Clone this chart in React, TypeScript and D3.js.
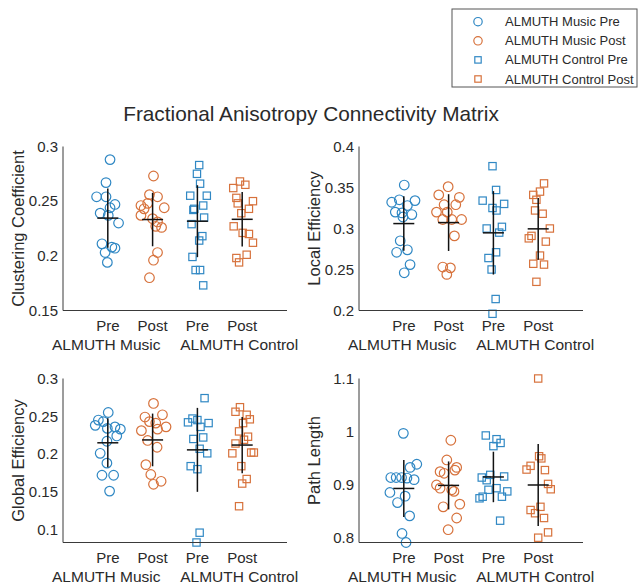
import React from 'react';
import * as d3 from 'd3';

// Session tick labels and the two study groups along each x axis
const sessionLabels = ['Pre', 'Post', 'Pre', 'Post'];
const groupLabels = ['ALMUTH Music', 'ALMUTH Control'];
const seriesNames = ['ALMUTH Music Pre', 'ALMUTH Music Post', 'ALMUTH Control Pre', 'ALMUTH Control Post'];
const metricNames = ['Clustering Coefficient', 'Local Efficiency', 'Global Efficiency', 'Path Length'];

// Per-subject values, one list per series (Music Pre, Music Post, Control Pre, Control Post)
const clusteringValues = [
  [0.288, 0.267, 0.254, 0.254, 0.247, 0.244, 0.239, 0.237, 0.230, 0.211, 0.208, 0.207, 0.203, 0.194],
  [0.273, 0.256, 0.254, 0.246, 0.248, 0.243, 0.244, 0.237, 0.234, 0.231, 0.226, 0.227, 0.203, 0.196, 0.180],
  [0.283, 0.275, 0.266, 0.255, 0.255, 0.246, 0.243, 0.242, 0.235, 0.229, 0.218, 0.214, 0.199, 0.187, 0.187, 0.173],
  [0.268, 0.265, 0.262, 0.253, 0.250, 0.243, 0.239, 0.227, 0.221, 0.220, 0.212, 0.201, 0.198, 0.194, 0.248],
];
const clusteringJitter = [
  [0.05, -0.04, -0.25, -0.04, 0.16, 0.05, -0.17, 0.01, 0.24, -0.13, 0.09, 0.16, -0.06, -0.01],
  [0.02, -0.07, 0.11, -0.26, -0.11, -0.19, 0.26, -0.26, 0, 0.11, 0.2, 0.07, 0.11, 0.02, -0.07],
  [0.04, -0.01, 0.06, -0.16, 0.21, 0.13, -0.07, -0.09, 0.15, -0.13, 0.11, 0.04, -0.11, -0.04, 0.06, 0.13],
  [-0.05, 0.07, -0.2, -0.13, 0.24, 0.15, -0.02, -0.19, 0.01, 0.15, 0.24, 0.1, -0.13, -0.07, -0.1],
];

const localValues = [
  [0.353, 0.332, 0.335, 0.334, 0.320, 0.328, 0.319, 0.317, 0.314, 0.285, 0.271, 0.274, 0.256, 0.246],
  [0.351, 0.341, 0.338, 0.329, 0.329, 0.320, 0.320, 0.311, 0.311, 0.311, 0.291, 0.253, 0.252, 0.244],
  [0.376, 0.347, 0.334, 0.330, 0.325, 0.322, 0.300, 0.302, 0.295, 0.271, 0.264, 0.250, 0.214, 0.196],
  [0.355, 0.345, 0.341, 0.335, 0.322, 0.318, 0.300, 0.288, 0.291, 0.284, 0.267, 0.257, 0.256, 0.235],
];
const localJitter = [
  [0.01, -0.27, -0.1, 0.25, -0.19, 0.08, -0.04, 0.18, -0.02, -0.08, -0.16, 0.08, 0.14, 0.01],
  [-0.01, -0.22, 0.24, -0.1, 0.16, -0.27, -0.03, -0.13, 0.07, 0.29, 0.13, -0.13, 0.04, -0.04],
  [-0.02, 0.06, -0.24, 0.24, -0.02, 0.07, -0.15, 0.19, 0.13, 0.06, -0.11, -0.04, 0.05, -0.02],
  [0.13, 0.04, -0.11, -0.04, -0.07, 0.1, 0.26, -0.21, -0.15, 0.17, 0.04, -0.11, 0.13, -0.04],
];

const globalValues = [
  [0.255, 0.245, 0.238, 0.243, 0.234, 0.236, 0.233, 0.224, 0.217, 0.201, 0.188, 0.172, 0.172, 0.151],
  [0.267, 0.249, 0.252, 0.243, 0.241, 0.236, 0.231, 0.233, 0.218, 0.209, 0.186, 0.173, 0.164, 0.160],
  [0.274, 0.247, 0.245, 0.242, 0.241, 0.236, 0.220, 0.222, 0.207, 0.201, 0.184, 0.180, 0.096, 0.083],
  [0.262, 0.256, 0.252, 0.246, 0.241, 0.230, 0.223, 0.219, 0.214, 0.201, 0.202, 0.202, 0.184, 0.167, 0.161, 0.131],
];
const globalJitter = [
  [0.01, -0.21, -0.28, -0.1, -0.01, 0.16, 0.28, 0.2, -0.02, -0.17, -0.02, -0.13, 0.13, 0.04],
  [0.02, -0.17, 0.22, -0.07, 0.07, 0.3, -0.25, 0.11, -0.11, 0.1, -0.15, -0.04, 0.19, 0.02],
  [0.16, -0.11, 0, -0.21, 0.25, 0.07, -0.09, 0.13, 0.05, 0.22, -0.15, 0, 0.05, -0.02],
  [-0.05, -0.15, 0.1, 0.17, 0.02, -0.07, 0.13, 0.04, -0.15, -0.22, 0.2, 0.26, -0.02, 0.1, 0, -0.07],
];

const pathValues = [
  [0.997, 0.939, 0.933, 0.914, 0.914, 0.914, 0.913, 0.910, 0.886, 0.879, 0.867, 0.842, 0.809, 0.792],
  [0.984, 0.947, 0.925, 0.922, 0.933, 0.928, 0.900, 0.894, 0.891, 0.888, 0.859, 0.864, 0.838, 0.816],
  [0.993, 0.986, 0.979, 0.973, 0.914, 0.919, 0.916, 0.909, 0.894, 0.891, 0.875, 0.878, 0.878, 0.888, 0.833],
  [1.100, 0.954, 0.950, 0.936, 0.929, 0.928, 0.902, 0.892, 0.859, 0.853, 0.847, 0.838, 0.811, 0.801],
];
const pathJitter = [
  [-0.01, 0.29, 0.14, -0.29, -0.17, -0.05, 0.07, 0.23, -0.31, 0.03, -0.14, 0.13, -0.04, 0.05],
  [0.05, -0.04, -0.19, -0.1, 0.18, 0.14, -0.27, -0.19, 0.07, 0.12, -0.12, 0.25, 0.18, -0.01],
  [-0.17, 0.07, 0.16, 0, -0.26, -0.07, 0.24, -0.15, 0.07, -0.11, -0.31, -0.24, 0.19, 0.31, 0.15],
  [0, 0.02, 0.07, -0.17, -0.26, 0.15, 0.22, 0.28, 0.05, -0.17, -0.07, 0.13, 0.22, 0],
];

// Axis limits and ticks for each metric
const yDomains = [
  [0.15, 0.3],
  [0.2, 0.4],
  [0.083, 0.3],
  [0.792, 1.1],
];
const yTicks = [
  [0.15, 0.2, 0.25, 0.3],
  [0.2, 0.25, 0.3, 0.35, 0.4],
  [0.1, 0.15, 0.2, 0.25, 0.3],
  [0.8, 0.9, 1, 1.1],
];

const allValues = [clusteringValues, localValues, globalValues, pathValues];
const allJitter = [clusteringJitter, localJitter, globalJitter, pathJitter];

const BLUE = '#3088c4';
const ORANGE = '#d7723c';
const seriesColors = [BLUE, ORANGE, BLUE, ORANGE];
const seriesShapes = ['circle', 'circle', 'square', 'square'];

const FONT = "'Liberation Sans', Arial, Helvetica, sans-serif";
const AXIS_COLOR = '#3a3a3a';
const TEXT_COLOR = '#2a2a2a';

// Panel placement (left, top) in a 2x2 grid
const panelOrigins = [
  [63, 146.5],
  [359, 146.5],
  [63, 378.5],
  [359, 378.5],
];
const PW = 224;
const PH = 164;

function Marker({ shape, x, y, color, size }: { shape: string; x: number; y: number; color: string; size: number }) {
  if (shape === 'circle') {
    return <circle cx={x} cy={y} r={size / 2} fill="none" stroke={color} strokeWidth={1.2} />;
  }
  const s = size * 0.76;
  return <rect x={x - s / 2} y={y - s / 2} width={s} height={s} fill="none" stroke={color} strokeWidth={1.2} />;
}

function Panel({ index }: { index: number }) {
  const [left, top] = panelOrigins[index];
  const values = allValues[index];
  const jitter = allJitter[index];
  const x = d3.scaleLinear().domain([0, 5]).range([left, left + PW]);
  const y = d3.scaleLinear().domain(yDomains[index]).range([top + PH, top]);
  const fmt = d3.format('~g');
  const bottom = top + PH;

  return (
    <g>
      {/* data points */}
      {values.map((series, si) =>
        series.map((v, i) => (
          <Marker
            key={`${si}-${i}`}
            shape={seriesShapes[si]}
            x={x(si + 1 + jitter[si][i])}
            y={y(v)}
            color={seriesColors[si]}
            size={9.6}
          />
        ))
      )}
      {/* mean ± SD */}
      {values.map((series, si) => {
        const m = d3.mean(series) as number;
        const sd = d3.deviation(series) as number;
        const cx = x(si + 1);
        return (
          <g key={`eb-${si}`} stroke="#111" strokeWidth={1.5}>
            <line x1={cx} x2={cx} y1={y(m - sd)} y2={y(m + sd)} />
            <line x1={cx - 10.5} x2={cx + 10.5} y1={y(m)} y2={y(m)} />
          </g>
        );
      })}
      {/* axes */}
      <line x1={left} x2={left} y1={top} y2={bottom} stroke={AXIS_COLOR} strokeWidth={1} />
      <line x1={left} x2={left + PW} y1={bottom} y2={bottom} stroke={AXIS_COLOR} strokeWidth={1} />
      {yTicks[index].map((t) => (
        <text
          key={`yt-${t}`}
          x={left - 5}
          y={y(t)}
          dy="0.35em"
          textAnchor="end"
          fontSize={15}
          fill={TEXT_COLOR}
        >
          {fmt(t)}
        </text>
      ))}
      {sessionLabels.map((s, i) => (
        <text key={`xt-${i}`} x={x(i + 1)} y={bottom + 15.5} dy="0.35em" textAnchor="middle" fontSize={15} fill={TEXT_COLOR}>
          {s}
        </text>
      ))}
      <text x={x(1) - 1.5} y={bottom + 34.5} dy="0.35em" textAnchor="middle" fontSize={15.5} fill={TEXT_COLOR}>
        {groupLabels[0]}
      </text>
      <text x={x(4) - 3} y={bottom + 34.5} dy="0.35em" textAnchor="middle" fontSize={15.5} fill={TEXT_COLOR}>
        {groupLabels[1]}
      </text>
      <text
        transform={`translate(${left - 45},${top + PH / 2}) rotate(-90)`}
        dy="0.35em"
        textAnchor="middle"
        fontSize={16.5}
        fill={TEXT_COLOR}
      >
        {metricNames[index]}
      </text>
    </g>
  );
}

function Legend() {
  const lx = 452;
  const ly = 9;
  const rows = d3.scaleLinear().domain([0, 3]).range([ly + 12.7, ly + 70]);
  return (
    <g>
      <rect x={lx} y={ly} width={185} height={78} fill="#fff" stroke="#555" strokeWidth={1} />
      {seriesNames.map((name, i) => (
        <g key={name}>
          <Marker shape={seriesShapes[i]} x={lx + 26} y={rows(i)} color={seriesColors[i]} size={8.4} />
          <text x={lx + 53} y={rows(i)} dy="0.35em" fontSize={13} fill={TEXT_COLOR}>
            {name}
          </text>
        </g>
      ))}
    </g>
  );
}

export default function App() {
  return (
    <svg
      width={641}
      height={588}
      style={{ position: 'absolute', left: 0, top: 0, background: '#fff' }}
      fontFamily={FONT}
    >
      <rect width={641} height={588} fill="#fff" />
      <text x={311} y={114} dy="0.35em" textAnchor="middle" fontSize={20.8} fill={TEXT_COLOR}>
        Fractional Anisotropy Connectivity Matrix
      </text>
      {[0, 1, 2, 3].map((i) => (
        <Panel key={i} index={i} />
      ))}
      <Legend />
    </svg>
  );
}
